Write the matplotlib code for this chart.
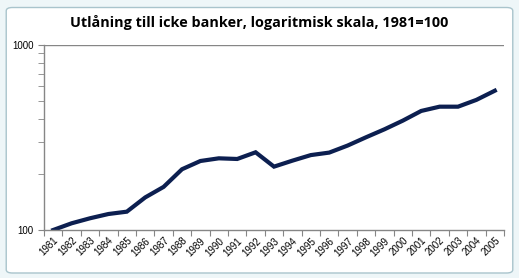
import numpy as np
import matplotlib.pyplot as plt
from matplotlib.patches import FancyBboxPatch
from matplotlib.ticker import FixedLocator, NullFormatter

years = [str(y) for y in range(1981, 2006)]
values = [100, 108.7, 115.7, 122, 125.6, 150, 171, 213, 236, 244, 242, 263,
          220, 237, 254, 262, 286, 317, 350, 390, 440, 464, 464, 505, 566]

title = "Utlåning till icke banker, logaritmisk skala, 1981=100"
line_color = '#0c1f50'
axis_color = '#868686'

fig = plt.figure(figsize=(5.19, 2.78), dpi=100)
fig.patch.set_facecolor('#eef6f8')
# chart area (Excel-like rounded box)
box = FancyBboxPatch((0.012, 0.018), 0.976, 0.955,
                     boxstyle="round,pad=0,rounding_size=0.012",
                     transform=fig.transFigure, facecolor='white',
                     edgecolor='#a9c4cc', linewidth=1.0, zorder=-5)
fig.patches.append(box)

ax = fig.add_axes([0.0848, 0.1727, 0.8863, 0.6655])
ax.set_zorder(2)
ax.set_facecolor('none')
x = np.arange(len(years))
ax.plot(x, values, color=line_color, linewidth=3.0, solid_joinstyle='miter')

ax.set_yscale('log')
ax.set_ylim(100, 1000)
ax.set_xlim(-0.5, len(years) - 0.5)

ax.yaxis.set_major_locator(FixedLocator([100, 1000]))
ax.yaxis.set_major_formatter(plt.FuncFormatter(lambda v, p: f'{int(v)}'))
ax.yaxis.set_minor_locator(FixedLocator(list(range(200, 1000, 100))))
ax.yaxis.set_minor_formatter(NullFormatter())

ax.set_xticks(np.arange(-0.5, len(years), 1.0))
ax.set_xticklabels([])
ax.set_xticks(x, minor=True)
ax.set_xticklabels(years, minor=True, rotation=45, ha='right',
                   rotation_mode='anchor', fontsize=7, family='Liberation Sans')

ax.tick_params(axis='x', which='major', direction='out', length=4, color=axis_color)
ax.tick_params(axis='x', which='minor', length=0, pad=4)
ax.tick_params(axis='y', which='both', direction='out', length=4, color=axis_color,
               labelsize=7)
for lab in ax.get_yticklabels():
    lab.set_family('Liberation Sans')

ax.axhline(1000, color=axis_color, linewidth=1.0)
for s in ['top', 'right']:
    ax.spines[s].set_visible(False)
for s in ['left', 'bottom']:
    ax.spines[s].set_color(axis_color)
    ax.spines[s].set_linewidth(1.0)

fig.text(0.5, 0.92, title, ha='center', va='center', fontsize=10.4,
         fontweight='bold', family='Open Sans', zorder=3)

fig.savefig('out.png', dpi=100, facecolor=fig.get_facecolor())
